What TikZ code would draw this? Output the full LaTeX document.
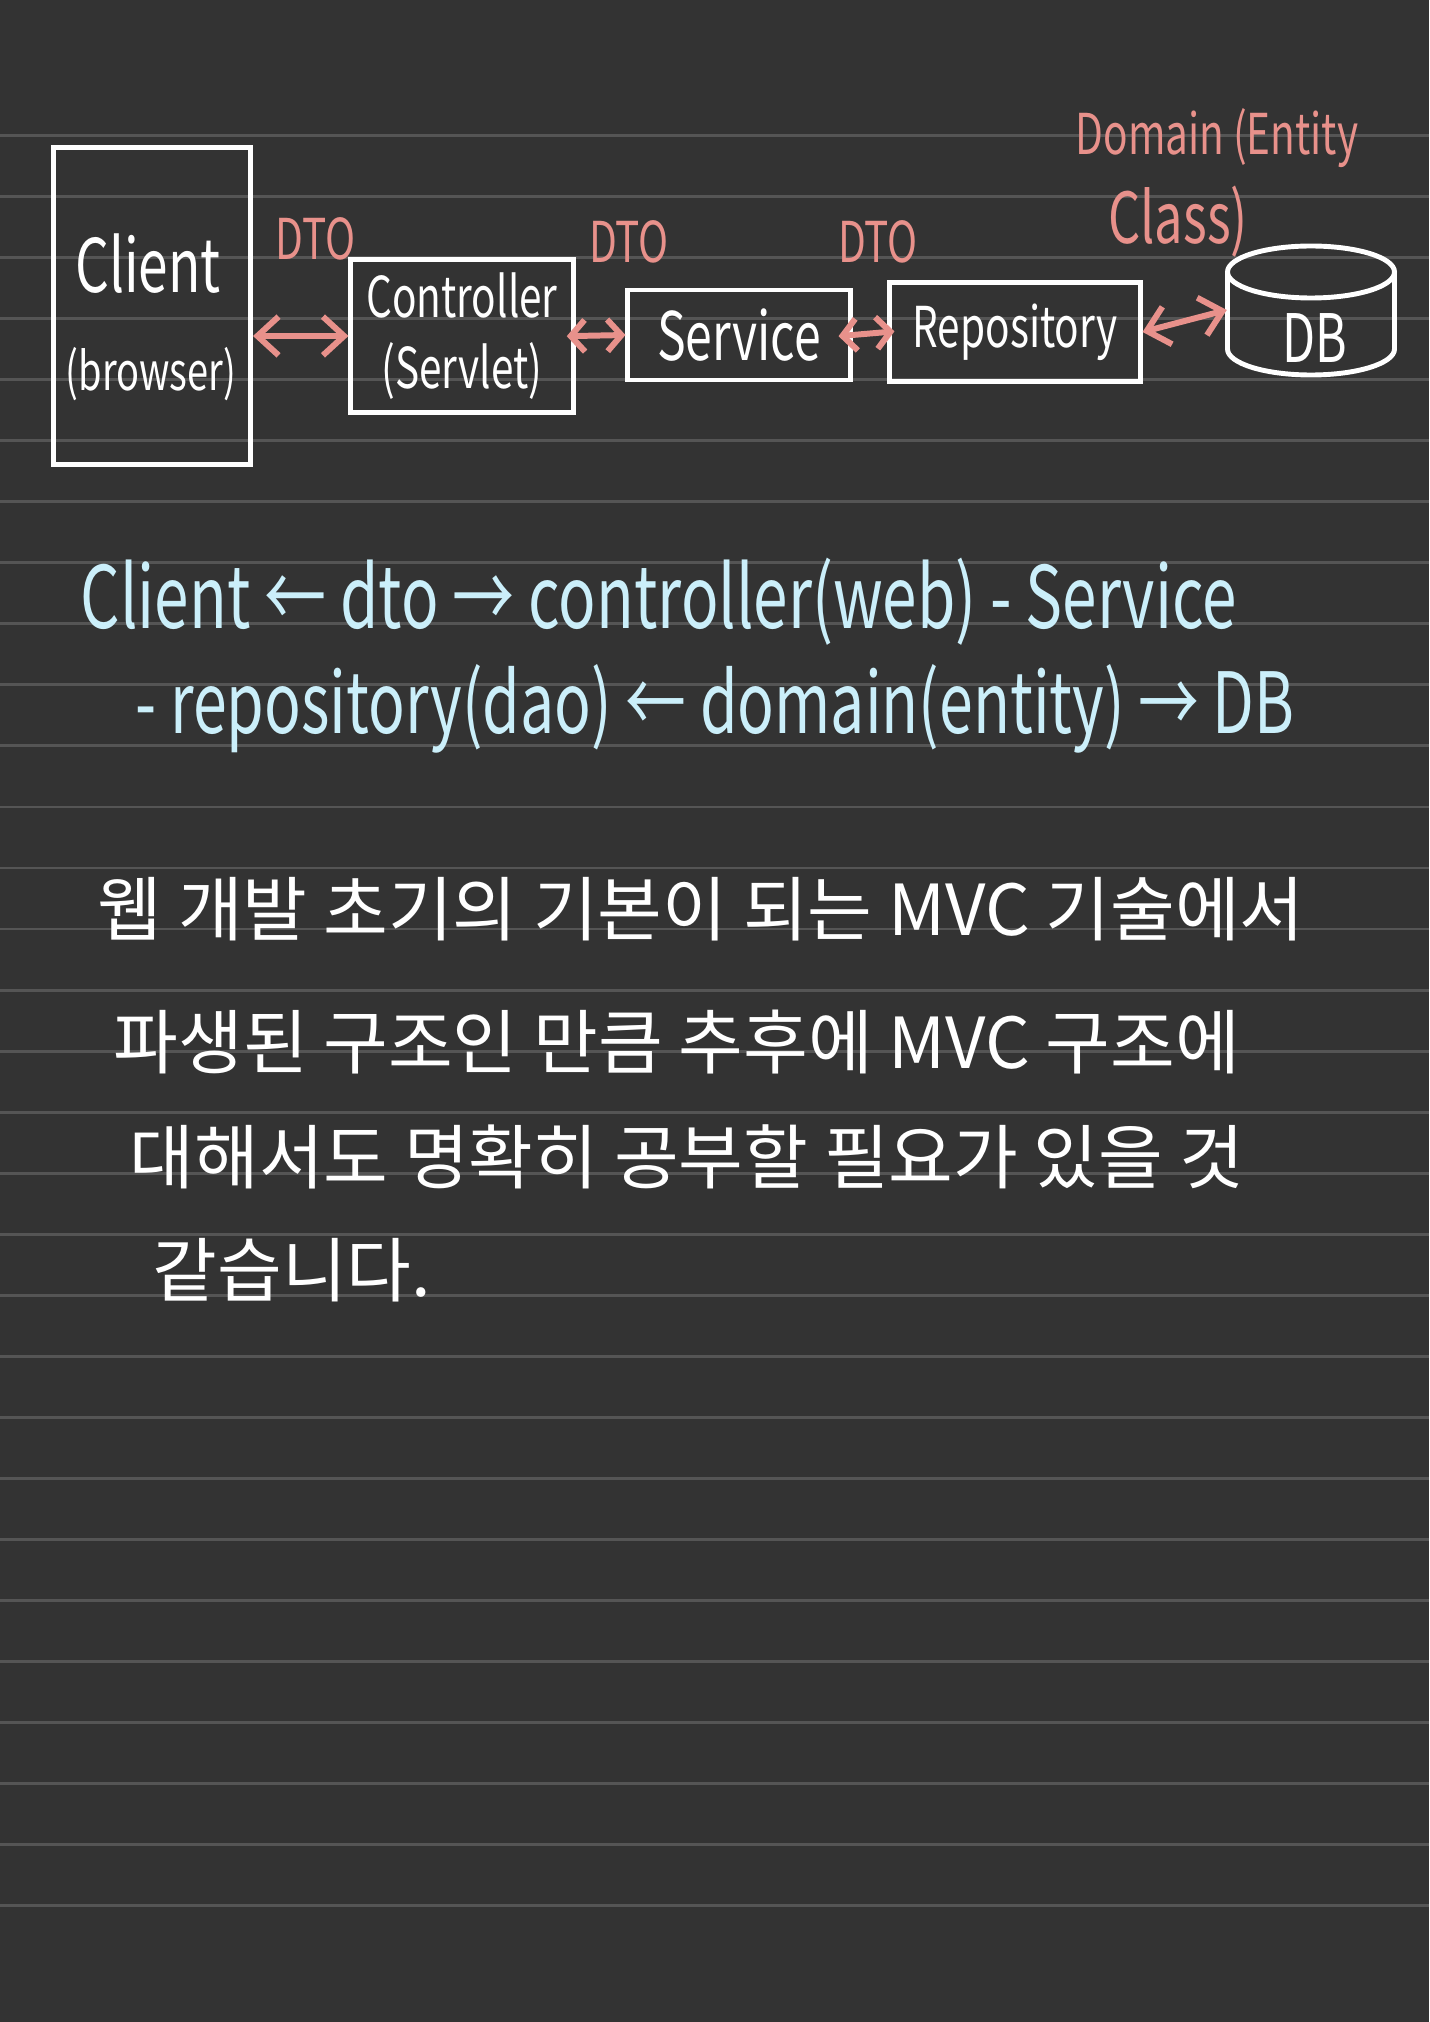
\documentclass[tikz,border=0pt]{standalone}
\usepackage{fontspec}
\setmainfont{Noto Sans CJK KR}
\newfontfamily\handfont[FakeStretch=0.72]{Noto Sans CJK KR}
\usetikzlibrary{arrows.meta}

\definecolor{paper}{HTML}{333333}
\definecolor{ruling}{HTML}{555555}
\definecolor{salmon}{HTML}{E8918B}
\definecolor{icyblue}{HTML}{CBEFFA}

\tikzset{
  layer/.style={draw=white, line width=1.4pt, inner sep=0pt, text=white, align=center,
    font=\handfont\fontsize{16pt}{20pt}\selectfont},
  boxword/.style={text=white, font=\handfont\fontsize{21pt}{24pt}\selectfont},
  dto/.style={text=salmon, font=\handfont\fontsize{16pt}{20pt}\selectfont},
  link/.style={salmon, line width=1.7pt, <->},
  shortlink/.style={link, >={Straight Barb[length=4pt,width=9pt]}},
  note/.style={text=icyblue, anchor=west, inner sep=0pt, font=\handfont\fontsize{24pt}{28pt}\selectfont},
  memo/.style={text=white, anchor=west, inner sep=0pt, font=\fontsize{20pt}{24pt}\selectfont},
}

\begin{document}
\begin{tikzpicture}[x=0.01cm,y=-0.01cm,>={Straight Barb[length=6pt,width=11pt]}]
\fill[paper] (0,0) rectangle (1429,2022);
\useasboundingbox (0,0) rectangle (1429,2022);

% ruled paper
\foreach \k in {0,...,29}
  \draw[ruling, line width=0.8pt] (0,135.4+61.05*\k) -- (1429,135.4+61.05*\k);

% layers
\node[layer, minimum width=1.97cm, minimum height=3.16cm] (client) at (152,306) {};
\node[boxword] (clientname) at (148,264) {Client};
\node[boxword, font=\handfont\fontsize{15pt}{20pt}\selectfont] (browser) at (151,374) {(browser)};

\node[layer, minimum width=2.22cm, minimum height=1.52cm] (controller) at (462,336) {Controller\\(Servlet)};
\node[layer, font=\handfont\fontsize{19pt}{22pt}\selectfont, minimum width=2.22cm, minimum height=0.9cm] (service) at (739,335) {Service};
\node[layer, minimum width=2.5cm, minimum height=0.99cm] (repo) at (1015,332) {Repository};

% database drum
\node[minimum width=1.67cm, minimum height=1.3cm, inner sep=0pt] (db) at (1311,310) {};
\draw[white, line width=1.4pt] (1311,272) ellipse [x radius=83.5, y radius=26];
\draw[white, line width=1.4pt] (1227.5,272) -- (1227.5,349)
  arc [start angle=180, end angle=0, x radius=83.5, y radius=26] -- (1394.5,272);
\node[boxword, font=\handfont\fontsize{19pt}{22pt}\selectfont] (dbname) at (1315,338) {DB};

% what travels between them
\node[dto] (dto1) at (316,239) {DTO};
\node[dto] (dto2) at (629,242) {DTO};
\node[dto] (dto3) at (878,242) {DTO};
\node[dto] (domain) at (1217,138) {Domain (Entity};
\node[dto, font=\handfont\fontsize{20pt}{24pt}\selectfont] (domainclass) at (1178,222) {Class)};

\draw[link] (client.east |- controller.west) -- (controller.west);
\draw[shortlink, shorten <=-2.5pt] (controller.east) -- (service.west);
\draw[shortlink, shorten <=-4pt, shorten >=-2pt] (service.east) -- (repo.west);
\draw[link] (repo.east) -- (db.west);

% summary
\node[note, font=\handfont\fontsize{24.5pt}{28pt}\selectfont] (flow1) at (80,602) {Client ← dto → controller(web) - Service};
\node[note] (flow2) at (135,709) {- repository(dao) ← domain(entity) → DB};

% memo
\node[memo] (memo1) at (97,909) {웹 개발 초기의 기본이 되는 MVC 기술에서};
\node[memo] (memo2) at (113,1042) {파생된 구조인 만큼 추후에 MVC 구조에};
\node[memo] (memo3) at (129,1157) {대해서도 명확히 공부할 필요가 있을 것};
\node[memo] (memo4) at (152,1270) {같습니다.};

\end{tikzpicture}
\end{document}
